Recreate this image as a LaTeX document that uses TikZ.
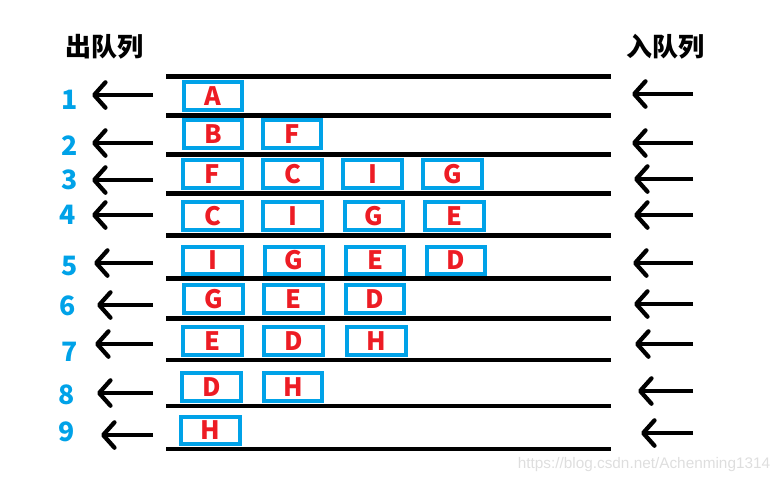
\documentclass[tikz,border=0pt]{standalone}
\usepackage{fontspec}
\setmainfont{Noto Sans}
\newfontfamily\cjk{Noto Sans CJK SC}
\newfontfamily\wmfont{Liberation Sans}
\usetikzlibrary{arrows.meta}
\definecolor{qblue}{RGB}{0,162,232}
\definecolor{qred}{RGB}{237,28,36}
\tikzstyle{qbox}=[draw=qblue,line width=3pt,minimum width=44pt,minimum height=20.5pt,
  inner sep=0pt,text=qred,font=\cjk\bfseries\fontsize{19}{19}\selectfont]
\tikzstyle{num}=[text=qblue,font=\cjk\bfseries\fontsize{20}{20}\selectfont]
\tikzstyle{title}=[font=\cjk\bfseries\fontsize{19.5}{19.5}\selectfont]
\tikzstyle{wall}=[line width=3.2pt]
\tikzstyle{move}=[line width=3.2pt,-{Straight Barb[length=8.5pt,width=19pt,round]}]
\newcommand{\newBox}[4]{\node[qbox](#1) at (#3,#4){#2};}
\newcommand{\newMove}[4]{\coordinate(#1s) at (#3,#2); \coordinate(#1e) at (#4,#2);
  \draw[move](#1s)--(#1e);}

\begin{document}
\begin{tikzpicture}[x=0.75pt,y=-0.75pt]
      \useasboundingbox (0,0) rectangle (784,483);
      % titles
      \node[title](deq) at (104,47) {出队列};
      \node[title](enq) at (665,47) {入队列};
      % queue walls
      \draw[wall] (166,76.5) -- (611,76.5);
      \draw[wall] (166,115.5) -- (611,115.5);
      \draw[wall] (166,154.5) -- (611,154.5);
      \draw[wall] (166,193.5) -- (611,193.5);
      \draw[wall] (166,235.5) -- (611,235.5);
      \draw[wall] (166,278.5) -- (611,278.5);
      \draw[wall] (166,318.5) -- (611,318.5);
      \draw[wall] (166,360) -- (611,360);
      \draw[wall] (166,406) -- (611,406);
      \draw[wall] (166,449) -- (611,449);
      % step numbers
      \node[num](n1) at (70,100) {1};
      \node[num](n2) at (70,146) {2};
      \node[num](n3) at (70,180) {3};
      \node[num](n4) at (68,215) {4};
      \node[num](n5) at (70,266) {5};
      \node[num](n6) at (68,306) {6};
      \node[num](n7) at (70,352) {7};
      \node[num](n8) at (67,395) {8};
      \node[num](n9) at (67,432) {9};
      % out arrows
      \newMove{o1}{95}{153}{92}
      \newMove{o2}{143}{153}{92}
      \newMove{o3}{180}{153}{92}
      \newMove{o4}{215}{153}{92}
      \newMove{o5}{263}{153}{94}
      \newMove{o6}{305}{153}{97}
      \newMove{o7}{344}{153}{95}
      \newMove{o8}{393}{153}{97}
      \newMove{o9}{435}{153}{101}
      % in arrows
      \newMove{i1}{94}{693}{632}
      \newMove{i2}{143}{693}{632}
      \newMove{i3}{179}{693}{634}
      \newMove{i4}{215}{693}{634}
      \newMove{i5}{263}{693}{633}
      \newMove{i6}{304}{693}{634}
      \newMove{i7}{344}{693}{635}
      \newMove{i8}{391}{693}{638}
      \newMove{i9}{433}{693}{641}
      % queue contents
      \newBox{a1}{A}{213}{96}
      \newBox{b2}{B}{213}{134}
      \newBox{f2}{F}{292}{134}
      \newBox{f3}{F}{212.5}{174}
      \newBox{c3}{C}{292.5}{174}
      \newBox{i3}{I}{372.5}{174}
      \newBox{g3}{G}{452.5}{174}
      \newBox{c4}{C}{212.5}{216}
      \newBox{i4}{I}{292.5}{216}
      \newBox{g4}{G}{374}{216}
      \newBox{e4}{E}{454.5}{216}
      \newBox{i5}{I}{212.5}{260.5}
      \newBox{g5}{G}{294}{260.5}
      \newBox{e5}{E}{375}{260.5}
      \newBox{d5}{D}{456}{260.5}
      \newBox{g6}{G}{213.5}{299}
      \newBox{e6}{E}{293.5}{299}
      \newBox{d6}{D}{375}{299}
      \newBox{e7}{E}{212.5}{341}
      \newBox{d7}{D}{293.5}{341}
      \newBox{h7}{H}{376.5}{341}
      \newBox{d8}{D}{211.5}{387}
      \newBox{h8}{H}{293}{387}
      \newBox{h9}{H}{210.5}{430.5}
      % watermark
      \node[text=black!13,font=\wmfont\fontsize{11.5}{11.5}\selectfont](wm) at (644,465) {https://blog.csdn.net/Achenming1314};
    \end{tikzpicture}
\end{document}
